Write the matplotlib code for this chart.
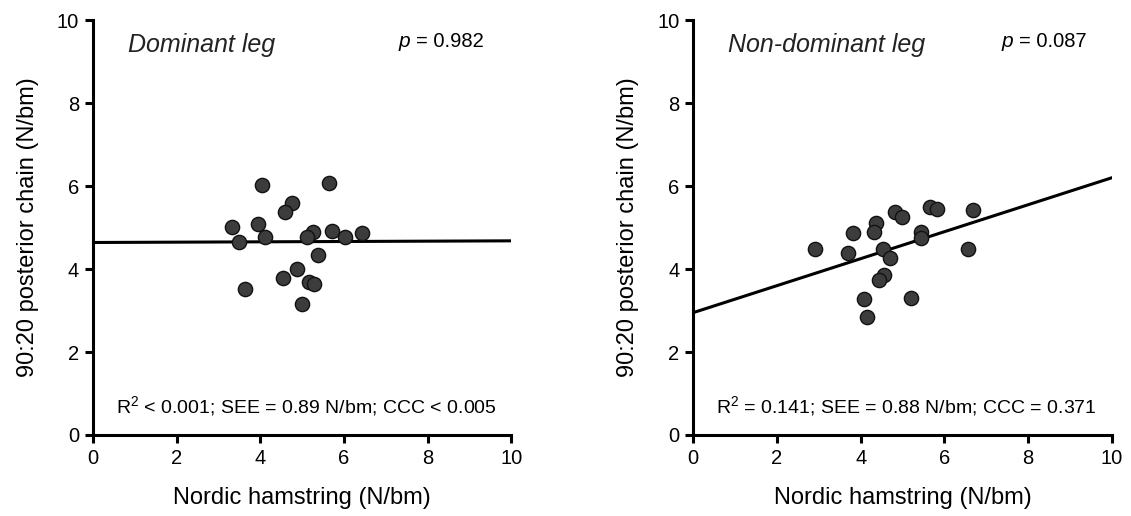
import matplotlib.pyplot as plt

plt.rcParams['font.family'] = ['Liberation Sans', 'DejaVu Sans']

# dominant leg
dom_x = [4.05, 5.64, 4.76, 4.60, 3.33, 3.95, 4.10, 3.48, 5.26, 5.12,
         5.71, 6.02, 6.43, 5.38, 4.88, 4.55, 5.17, 5.29, 3.64, 5.00]
dom_y = [6.02, 6.07, 5.59, 5.37, 5.01, 5.08, 4.77, 4.65, 4.89, 4.77,
         4.91, 4.77, 4.87, 4.34, 3.99, 3.78, 3.69, 3.64, 3.52, 3.15]
dom_fit = [4.64, 4.68]

# non-dominant leg
nd_x = [2.90, 3.81, 3.69, 4.36, 4.32, 4.82, 4.99, 4.53, 4.70, 4.55,
        4.44, 4.08, 4.15, 5.20, 5.44, 5.44, 5.66, 5.83, 6.69, 6.57]
nd_y = [4.48, 4.87, 4.39, 5.10, 4.89, 5.37, 5.25, 4.48, 4.27, 3.86,
        3.73, 3.28, 2.84, 3.30, 4.89, 4.75, 5.49, 5.45, 5.42, 4.48]
nd_fit = [2.95, 6.20]

fit_x = [0, 10]
ticks = [0, 2, 4, 6, 8, 10]

panels = [
    (dom_x, dom_y, dom_fit, 'Dominant leg', '= 0.982', 7.31,
     r'R$^2$ < 0.001; SEE = 0.89 N/bm; CCC < 0.005'),
    (nd_x, nd_y, nd_fit, 'Non-dominant leg', '= 0.087', 7.36,
     r'R$^2$ = 0.141; SEE = 0.88 N/bm; CCC = 0.371'),
]

plt.rcParams['mathtext.fontset'] = 'custom'
plt.rcParams['mathtext.rm'] = 'Liberation Sans'

fig = plt.figure(figsize=(11.31, 5.16), dpi=100)
lefts = [0.0822, 0.613]

for left, (xs, ys, fit, title, p, px, stats) in zip(lefts, panels):
    ax = fig.add_axes([left, 0.157, 0.370, 0.804])
    ax.plot(fit_x, fit, color='black', lw=2.2, zorder=2)
    ax.scatter(xs, ys, s=105, color='#3c3c3c', edgecolor='#111111',
               linewidth=1, zorder=3)
    ax.set_xlim(0, 10)
    ax.set_ylim(0, 10)
    ax.set_xticks(ticks)
    ax.set_yticks(ticks)
    for s in ['top', 'right']:
        ax.spines[s].set_visible(False)
    for s in ['left', 'bottom']:
        ax.spines[s].set_linewidth(2.2)
    ax.tick_params(direction='out', length=6, width=2.2, labelsize=14.5, pad=4)
    ax.set_xlabel('Nordic hamstring (N/bm)', fontsize=17, labelpad=14)
    ax.set_ylabel('90:20 posterior chain (N/bm)', fontsize=17, labelpad=13)
    ax.text(0.83, 9.23, title, style='italic', fontsize=18, va='baseline',
            color='#222222')
    ax.text(px, 9.35, 'p', style='italic', fontsize=15, va='baseline')
    ax.text(px + 0.42, 9.35, p, fontsize=14.5, va='baseline')
    ax.text(5.1, 0.67, stats, fontsize=14, va='center', ha='center')

fig.savefig('out.png', dpi=100)
